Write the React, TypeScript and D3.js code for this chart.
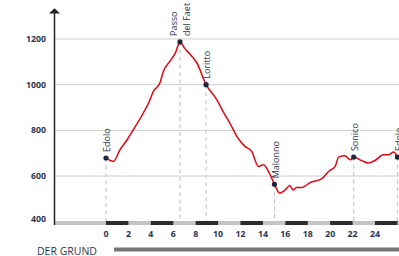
import React from 'react';
import * as d3 from 'd3';

// elevation profile (km, metres)
const profileKm = [0, 0.65, 1.25, 1.9, 2.44, 3.33, 3.8, 4.23, 4.82, 5.12, 5.71, 6.2, 6.6, 7.0, 7.5, 8.1, 8.93, 9.88, 10.5, 11.2, 11.67, 12.4, 13.0, 13.6, 14.05, 14.6, 15.03, 15.5, 16.0, 16.4, 16.7, 17.0, 17.5, 18.2, 19.3, 19.85, 20.45, 20.75, 21.3, 21.8, 22.1, 22.8, 23.4, 24.0, 24.76, 25.2, 25.65, 26.0];
const profileElev = [679, 664, 715, 760, 803, 876, 920, 971, 1008, 1059, 1103, 1140, 1187, 1160, 1133, 1096, 1000, 935, 878, 818, 774, 730, 708, 642, 649, 610, 564, 525, 540, 558, 539, 550, 550, 571, 590, 620, 642, 683, 689, 671, 683, 668, 657, 668, 693, 693, 705, 683];

// named stops
const stopNames = [['Edolo'], ['Passo', 'del Faet'], ['Loritto'], ['Malonno'], ['Sonico'], ['Edolo']];
const stopKm = [0, 6.6, 8.93, 15.03, 22.1, 26.0];
const stopElev = [679, 1187, 1000, 564, 683, 683];

const xTicks = [0, 2, 4, 6, 8, 10, 12, 14, 16, 18, 20, 22, 24];
const yTicks = [400, 600, 800, 1000, 1200];

const width = 399;
const height = 256;
const navy = '#2d3650';
const font = '"Open Sans", "Noto Sans", sans-serif';

export default function App() {
  const x = d3.scaleLinear().domain([0, 24]).range([106, 375]);
  const y = d3.scaleLinear().domain([400, 1200]).range([221.7, 39]);
  const left = 54.5;
  const right = width;
  const barTop = y(400) - 0.7;

  const line = d3.line<number>()
    .x((d, i) => x(profileKm[i]))
    .y(d => y(d))
    .curve(d3.curveMonotoneX);

  const kmMax = x.invert(right);
  const darkSegs = d3.range(0, kmMax, 4);

  return (
    <svg width={width} height={height} style={{ position: 'absolute', left: 0, top: 0 }} fontFamily={font}>
      {/* grid */}
      {yTicks.filter(t => t > 400).map(t => (
        <line key={t} x1={left} x2={right} y1={y(t)} y2={y(t)} stroke="#cfcfcf" strokeWidth={1} />
      ))}
      {yTicks.map(t => (
        <text key={'yl' + t} x={46} y={t === 400 ? y(t) - 2.5 : y(t)} dy="0.35em" textAnchor="end"
          fontSize={8.8} fontWeight={700} fill={navy}>{t}</text>
      ))}

      {/* dashed guides */}
      {stopKm.map((k, i) => (
        <line key={'g' + i} x1={x(k)} x2={x(k)} y1={y(stopElev[i])} y2={barTop}
          stroke="#bdbdbd" strokeWidth={1} strokeDasharray="4,3.5" />
      ))}

      {/* km bar */}
      <rect x={left} y={barTop} width={right - left} height={4} fill="#c4c4c4" />
      {darkSegs.map(k => (
        <rect key={'d' + k} x={x(k)} y={barTop} width={Math.min(x(k + 2), right) - x(k)} height={4} fill="#2a2a33" />
      ))}
      {xTicks.map(t => (
        <text key={'xl' + t} x={x(t)} y={234} dy="0.35em" textAnchor="middle"
          fontSize={8.8} fontWeight={700} fill={navy}>{t}</text>
      ))}

      {/* y axis */}
      <line x1={left} x2={left} y1={12} y2={barTop + 4} stroke="#222" strokeWidth={1.5} />
      <path d={`M${left - 5.5},13.6L${left},8.2L${left + 5.5},13.6Z`} fill="#222" />

      {/* profile */}
      <path d={line(profileElev) || ''} fill="none" stroke="#e30613" strokeWidth={1.5} strokeLinejoin="round" />

      {/* stops */}
      {stopKm.map((k, i) => {
        const px = x(k);
        const py = y(stopElev[i]);
        const names = stopNames[i];
        return (
          <g key={'s' + i}>
            <circle cx={px} cy={py} r={2.6} fill="#1c2540" />
            <text transform={`translate(${px},${py - 6}) rotate(-90)`} fontSize={9} fill={navy}>
              {names.map((n, j) => (
                <tspan key={j} x={0} y={names.length === 1 ? 1 : (j === 0 ? -6.5 : 6.5)} dy="0.35em">{n}</tspan>
              ))}
            </text>
          </g>
        );
      })}

      {/* footer */}
      <text x={37} y={254.5} fontSize={10.5} fill={navy}>DER GRUND</text>
      <rect x={114} y={247.5} width={right - 114} height={4} fill="#777" />
    </svg>
  );
}
